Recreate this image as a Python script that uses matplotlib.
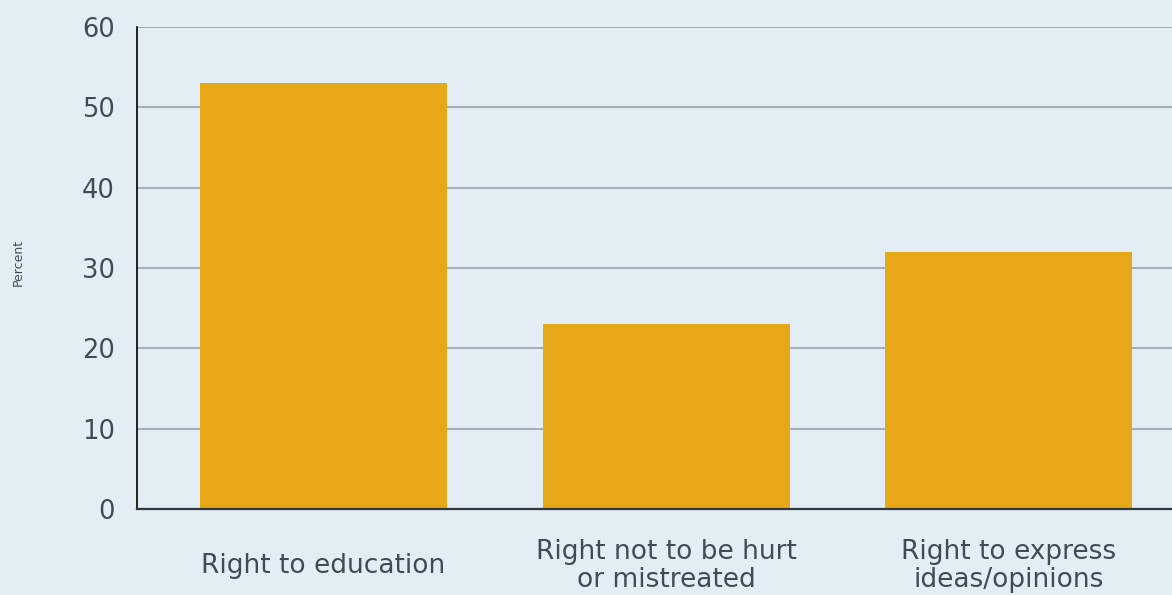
import matplotlib.pyplot as plt
import numpy as np

categories = ["Right to education", "Right not to be hurt\nor mistreated", "Right to express\nideas/opinions"]
values = [53, 23, 32]
yticks = [0, 10, 20, 30, 40, 50, 60]

BG = "#e3eef4"
BAR = "#e6a817"
GRID = "#a4b0b8"
TEXT = "#414b55"

plt.rcParams["font.family"] = ["DejaVu Sans"]

fig = plt.figure(figsize=(11.72, 5.95), dpi=100, facecolor=BG)
ax = fig.add_axes([137 / 1172, 86 / 595, 1 - 137 / 1172, 482 / 595])
ax.set_facecolor(BG)

x = np.arange(len(categories))
ax.bar(x, values, width=0.721, color=BAR, zorder=3)

ax.set_ylim(0, 60)
ax.set_xlim(-0.5445, 2.477)
ax.set_yticks(yticks)
ax.set_yticklabels([str(t) for t in yticks])
ax.set_xticks(x)
ax.set_xticklabels(categories)

ax.yaxis.grid(True, color=GRID, linewidth=1.5, zorder=0)
ax.set_axisbelow(True)

for side in ["top", "right"]:
    ax.spines[side].set_visible(False)
ax.spines["left"].set_color("black")
ax.spines["left"].set_linewidth(1.2)
ax.spines["bottom"].set_color("#2f3840")
ax.spines["bottom"].set_linewidth(1.6)
ax.spines["bottom"].set_zorder(4)

ax.tick_params(axis="y", length=0, pad=16, labelsize=18.5, labelcolor=TEXT)
ax.tick_params(axis="x", length=0, pad=41, labelsize=19, labelcolor=TEXT)
for lbl in ax.get_xticklabels():
    lbl.set_verticalalignment("center")
    lbl.set_linespacing(1.1)

fig.text(18 / 1172, 1 - 262 / 595, "Percent", rotation=90, ha="center", va="center",
         fontsize=9, color=TEXT)

fig.savefig("out.png", dpi=100, facecolor=BG)
